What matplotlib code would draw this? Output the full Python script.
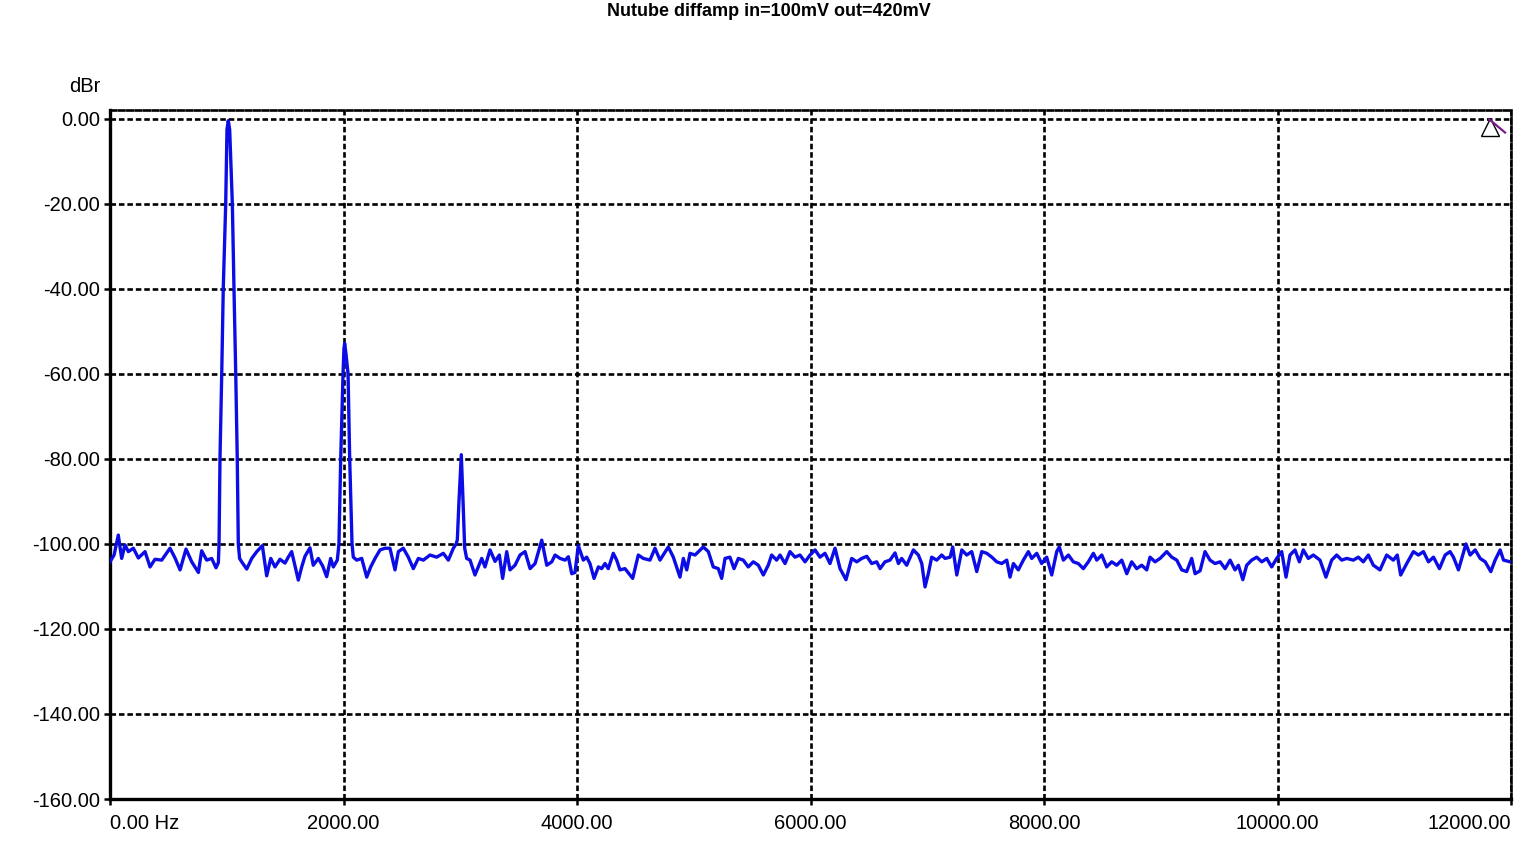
import numpy as np
import matplotlib.pyplot as plt

# spectrum (Hz, dBr)
freq_hz = [
    0, 35, 71, 100, 128, 157, 200, 243, 300, 343, 385, 443, 514, 557, 600, 651, 700, 757, 785, 828,
    871, 908, 928, 934, 942, 957, 970, 991, 1002, 1013, 1025, 1048, 1062, 1077, 1090, 1099, 1110, 1128, 1171, 1214,
    1257, 1305, 1342, 1377, 1413, 1456, 1499, 1527, 1556, 1578, 1613, 1642, 1670, 1713, 1741, 1784, 1822, 1856, 1890, 1913,
    1947, 1961, 1976, 1996, 2004, 2010, 2020, 2039, 2053, 2073, 2084, 2113, 2156, 2199, 2233, 2270, 2313, 2355, 2398, 2441,
    2470, 2512, 2555, 2598, 2641, 2684, 2741, 2798, 2855, 2898, 2941, 2965, 2975, 2989, 3009, 3024, 3038, 3055, 3084, 3126,
    3184, 3212, 3255, 3298, 3335, 3363, 3398, 3426, 3469, 3512, 3555, 3598, 3641, 3698, 3741, 3784, 3812, 3855, 3898, 3926,
    3955, 3983, 4011, 4054, 4083, 4111, 4146, 4183, 4211, 4240, 4268, 4311, 4340, 4368, 4411, 4477, 4525, 4568, 4625, 4668,
    4711, 4782, 4825, 4882, 4911, 4940, 4968, 5011, 5082, 5125, 5167, 5210, 5239, 5268, 5310, 5345, 5382, 5424, 5467, 5510,
    5553, 5596, 5638, 5667, 5710, 5739, 5782, 5824, 5867, 5910, 5953, 5996, 6039, 6081, 6124, 6167, 6210, 6253, 6304, 6353,
    6396, 6439, 6482, 6524, 6567, 6596, 6638, 6681, 6724, 6753, 6781, 6824, 6881, 6924, 6953, 6981, 7009, 7038, 7081, 7124,
    7153, 7196, 7218, 7253, 7296, 7338, 7381, 7424, 7467, 7510, 7553, 7595, 7638, 7681, 7709, 7738, 7780, 7823, 7866, 7895,
    7938, 7980, 8023, 8066, 8109, 8131, 8166, 8209, 8251, 8294, 8337, 8380, 8423, 8452, 8495, 8537, 8580, 8623, 8666, 8709,
    8751, 8794, 8837, 8880, 8908, 8951, 8994, 9051, 9094, 9137, 9180, 9222, 9265, 9294, 9337, 9379, 9422, 9465, 9508, 9551,
    9594, 9636, 9665, 9703, 9736, 9779, 9822, 9865, 9908, 9950, 9993, 10036, 10073, 10107, 10150, 10187, 10221, 10264, 10307, 10364,
    10415, 10464, 10507, 10550, 10593, 10650, 10692, 10735, 10778, 10821, 10878, 10935, 10992, 11026, 11055, 11107, 11164, 11207, 11250, 11293,
    11336, 11387, 11436, 11478, 11507, 11550, 11614, 11650, 11693, 11736, 11779, 11827, 11864, 11907, 11936, 11993, 12000,
]
level_dbr = [
    -104.2, -102.6, -97.9, -103.4, -100.2, -101.8, -101.0, -103.3, -101.8, -105.4, -103.6, -103.8, -101.0, -103.3, -106.1, -101.2, -104.2, -106.7, -101.6, -103.8,
    -103.4, -105.6, -104.4, -100.0, -80.0, -60.0, -40.0, -20.0, -2.5, -0.4, -2.5, -20.0, -40.0, -60.0, -80.0, -100.0, -103.4, -104.2, -105.9, -103.4,
    -101.8, -100.4, -107.5, -103.4, -105.4, -103.6, -104.5, -103.1, -101.8, -104.4, -108.5, -105.4, -102.9, -100.9, -105.0, -103.4, -105.2, -107.7, -103.4, -105.4,
    -103.8, -100.0, -80.0, -60.0, -54.0, -52.8, -55.0, -60.0, -80.0, -100.0, -103.1, -103.8, -103.4, -107.8, -105.4, -103.4, -101.4, -101.0, -101.0, -106.1,
    -101.8, -101.0, -103.1, -105.8, -103.4, -103.8, -102.6, -103.1, -102.2, -103.8, -101.0, -100.0, -99.0, -90.0, -79.0, -90.0, -101.0, -103.4, -103.8, -107.3,
    -103.4, -105.4, -101.4, -104.1, -102.6, -108.1, -101.8, -106.1, -105.0, -102.6, -101.8, -105.8, -104.6, -99.1, -105.0, -104.2, -102.6, -103.4, -103.8, -103.0,
    -107.0, -106.7, -100.4, -103.8, -103.1, -104.6, -108.1, -105.4, -105.8, -104.6, -105.8, -102.2, -103.8, -106.1, -105.8, -108.1, -102.6, -103.4, -103.8, -101.0,
    -103.8, -100.7, -103.1, -107.8, -103.4, -106.1, -102.2, -102.6, -100.7, -101.8, -105.4, -105.8, -108.1, -103.4, -103.1, -105.8, -103.4, -103.8, -105.4, -104.2,
    -105.0, -107.3, -105.0, -102.6, -103.8, -102.6, -104.6, -101.8, -103.1, -102.6, -104.2, -102.6, -101.4, -103.1, -102.2, -104.6, -101.0, -105.8, -108.4, -103.4,
    -104.2, -103.4, -102.9, -104.6, -104.2, -105.8, -104.2, -103.8, -102.1, -104.6, -103.4, -105.0, -101.4, -102.6, -104.6, -110.1, -107.0, -103.1, -103.8, -102.6,
    -103.4, -103.1, -100.7, -107.3, -101.4, -102.6, -101.8, -106.5, -101.8, -102.2, -103.1, -104.2, -104.6, -103.8, -107.8, -104.6, -106.1, -103.8, -101.8, -103.4,
    -102.2, -104.6, -103.1, -107.3, -101.8, -100.7, -103.8, -102.6, -104.2, -104.6, -105.8, -104.2, -102.2, -103.8, -102.6, -105.4, -104.2, -105.0, -103.8, -107.0,
    -104.2, -105.8, -105.0, -106.1, -103.1, -104.2, -103.4, -101.8, -103.1, -103.8, -106.1, -106.5, -103.4, -107.0, -106.3, -101.8, -103.8, -104.6, -104.2, -105.8,
    -103.8, -106.1, -105.0, -108.4, -105.0, -103.8, -103.1, -104.2, -103.4, -105.4, -103.4, -101.8, -107.8, -102.6, -101.4, -104.2, -101.4, -103.4, -102.6, -103.8,
    -107.8, -103.8, -102.6, -103.8, -103.4, -103.8, -103.1, -104.2, -102.6, -105.0, -106.1, -102.6, -103.8, -102.6, -107.3, -104.6, -101.8, -102.6, -101.8, -104.2,
    -103.1, -105.8, -102.6, -101.8, -103.1, -106.1, -100.0, -102.6, -101.4, -103.4, -104.2, -106.5, -103.8, -101.4, -103.8, -104.2, -104.3,
]

x_ticks = [0, 2000, 4000, 6000, 8000, 10000, 12000]
x_tick_labels = ["0.00 Hz", "2000.00", "4000.00", "6000.00", "8000.00", "10000.00", "12000.00"]
y_ticks = [0, -20, -40, -60, -80, -100, -120, -140, -160]
y_tick_labels = ["0.00", "-20.00", "-40.00", "-60.00", "-80.00", "-100.00", "-120.00", "-140.00", "-160.00"]

# cursor marker in the top right corner
cursor_hz, cursor_db = 11820, -2.0

plt.rcParams["font.family"] = ["Liberation Sans", "DejaVu Sans"]
dash = (0, (2.1, 1.1))

fig = plt.figure(figsize=(15.38, 8.66), dpi=100)
ax = fig.add_axes([110 / 1538, 1 - 799 / 866, 1401 / 1538, 689 / 866])

ax.plot(freq_hz, level_dbr, color="#0c0ce6", linewidth=2.4, zorder=3)

# cursor triangle with its purple tick
ax.plot([cursor_hz], [cursor_db], marker="^", markersize=13, markerfacecolor="white",
        markeredgecolor="black", markeredgewidth=1.0, linestyle="none", zorder=4)
ax.plot([cursor_hz - 6, cursor_hz + 129], [cursor_db + 1.9, cursor_db - 1.2],
        color="#7a1a8a", linewidth=1.6, zorder=5)

ax.set_xlim(0, 12000)
ax.set_ylim(-160, 2.1)
ax.set_xticks(x_ticks)
ax.set_xticklabels(x_tick_labels)
ax.set_yticks(y_ticks)
ax.set_yticklabels(y_tick_labels)

ax.grid(True, color="black", linewidth=1.9, linestyle=dash)
ax.set_axisbelow(True)

for side in ["left", "bottom"]:
    ax.spines[side].set_linewidth(2.4)
    ax.spines[side].set_color("black")
for side in ["top", "right"]:
    ax.spines[side].set_linewidth(1.9)
    ax.spines[side].set_linestyle(dash)

ax.tick_params(axis="both", direction="out", length=4, width=1.8, colors="black", labelsize=14.5)
ax.tick_params(axis="x", pad=7)
ax.tick_params(axis="y", pad=3)

labels = ax.get_xticklabels()
labels[0].set_horizontalalignment("left")
labels[-1].set_horizontalalignment("right")

fig.text(100 / 1538, 1 - 87 / 866, "dBr", fontsize=14.5, ha="right", va="center")
fig.text(0.5, 1 - 12 / 866, "Nutube diffamp in=100mV out=420mV", fontsize=13,
         fontweight="bold", ha="center", va="center")

fig.savefig("out.png", dpi=100, facecolor="white")
